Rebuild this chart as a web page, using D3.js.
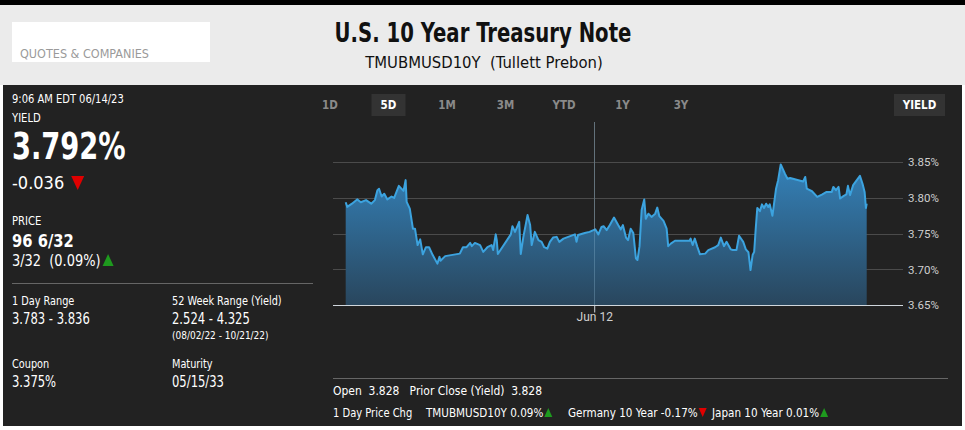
<!DOCTYPE html>
<html>
<head>
<meta charset="utf-8">
<script src="https://cdnjs.cloudflare.com/ajax/libs/d3/7.8.5/d3.min.js"></script>
<style>
	body { margin: 0; background: #fff; }
	svg text { font-family: "Liberation Sans Narrow", "DejaVu Sans Condensed", Roboto, sans-serif; }
	.axis text { font-family: Roboto, sans-serif; }
</style>
</head>
<body>
<div id="quote"></div>
<script>
	//position in the 5 day window (0 = first print, 100 = last print)
	var times = [0, 0.3, 1.2, 2.2, 2.9, 3.9, 4.9, 5.6, 6.1, 6.4, 6.9, 7.4, 8.0, 8.8, 9.3, 10.2, 11.1, 11.5, 11.7,
		12.3, 12.9, 13.3, 13.8, 14.3, 14.8, 15.4, 16.0, 16.7, 17.6, 18.0, 18.2, 19.1, 21.9, 22.5, 23.2, 23.9, 24.2,
		24.8, 25.8, 26.4, 27.2, 28.0, 28.3, 28.8, 29.0, 29.2, 31.7, 32.0, 32.5, 33.3, 33.6, 34.1, 34.9, 35.4, 35.7,
		36.3, 37.0, 37.6, 38.1, 38.7, 39.2, 39.8, 40.5, 41.0, 41.8, 44.0, 44.3, 44.6, 45.9, 46.8, 47.9, 48.5, 49.1,
		49.5, 50.1, 50.7, 51.5, 52.3, 52.8, 53.2, 53.8, 54.2, 54.7, 55.2, 55.7, 56.0, 56.4, 56.8, 57.3, 57.6, 58.1,
		58.7, 59.4, 59.8, 60.2, 61.0, 61.6, 61.9, 62.4, 63.2, 66.0, 66.2, 66.6, 67.0, 67.5, 68.0, 69.0, 69.6, 70.9,
		71.5, 72.0, 72.6, 73.1, 73.9, 74.3, 75.0, 75.5, 76.3, 76.8, 77.3, 77.7, 78.1, 78.4, 78.7, 79.0, 79.5, 79.9,
		80.3, 80.7, 81.1, 81.4, 81.9, 82.2, 82.6, 83.0, 83.5, 84.0, 84.3, 84.8, 85.3, 87.8, 88.2, 88.5, 89.5, 90.5,
		91.4, 92.3, 93.3, 93.6, 94.1, 94.6, 94.9, 95.6, 96.1, 96.4, 96.8, 97.4, 98.1, 98.7, 99.2, 99.6, 99.85, 100];
	var yields = [3.794, 3.7875, 3.792, 3.798, 3.794, 3.797, 3.792, 3.797, 3.811, 3.813, 3.802, 3.806, 3.798, 3.802, 3.800, 3.817, 3.810, 3.825, 3.7945,
		3.785, 3.757, 3.757, 3.734, 3.742, 3.721, 3.731, 3.731, 3.720, 3.708, 3.7175, 3.712, 3.7185, 3.722, 3.731, 3.731, 3.737, 3.7325,
		3.737, 3.734, 3.7245, 3.731, 3.734, 3.727, 3.749, 3.741, 3.7215, 3.749, 3.7605, 3.7525, 3.7665, 3.7215, 3.7455, 3.776, 3.762, 3.734,
		3.7525, 3.741, 3.7385, 3.731, 3.729, 3.7385, 3.7445, 3.7455, 3.7385, 3.743, 3.749, 3.7385, 3.748, 3.751, 3.7525, 3.756, 3.749, 3.7595,
		3.7605, 3.755, 3.762, 3.7725, 3.762, 3.756, 3.762, 3.7445, 3.741, 3.757, 3.751, 3.7155, 3.713, 3.7325, 3.783, 3.798, 3.771, 3.778,
		3.7735, 3.778, 3.7865, 3.7745, 3.768, 3.757, 3.7325, 3.736, 3.740, 3.740, 3.743, 3.734, 3.743, 3.7315, 3.721, 3.722, 3.727, 3.731,
		3.734, 3.7445, 3.7325, 3.7385, 3.728, 3.727, 3.727, 3.747, 3.7385, 3.728, 3.724, 3.699, 3.720, 3.7245, 3.757, 3.786, 3.7815, 3.791,
		3.786, 3.792, 3.7875, 3.791, 3.775, 3.791, 3.813, 3.825, 3.847, 3.839, 3.834, 3.827, 3.828, 3.823, 3.8295, 3.813, 3.8094, 3.8015,
		3.8048, 3.8085, 3.8085, 3.8155, 3.811, 3.8155, 3.7992, 3.803, 3.805, 3.817, 3.804, 3.818, 3.825, 3.831, 3.820, 3.8085, 3.786, 3.792];

	var yTicks = [3.65, 3.70, 3.75, 3.80, 3.85];
	var xTicks = [47.7];
	var xTickLabels = ["Jun 12"];
	var tabs = ["1D", "5D", "1M", "3M", "YTD", "1Y", "3Y"];
	var activeTab = "5D";

	var statLabels = ["1 Day Range", "52 Week Range (Yield)", "Coupon", "Maturity"];
	var statValues = ["3.783 - 3.836", "2.524 - 4.325", "3.375%", "05/15/33"];
	var otherChgNames = ["TMUBMUSD10Y", "Germany 10 Year", "Japan 10 Year"];
	var otherChgValues = [0.09, -0.17, 0.01];

	var width = 965;
	var height = 430;

	var svg = d3.select("#quote").append("svg")
		.attr("width", width)
		.attr("height", height);

	//no narrow font here, so squeeze the condensed one a bit more
	function narrow(sel, k) {
		sel.each(function() {
			var w = this.getComputedTextLength();
			d3.select(this).attr("textLength", w * k).attr("lengthAdjust", "spacingAndGlyphs");
		});
		return sel;
	}

	//HEADER BEGIN
	svg.append("rect").attr("x", 0).attr("y", 0).attr("width", width).attr("height", 5).attr("fill", "#000");
	svg.append("rect").attr("x", 0).attr("y", 5).attr("width", width).attr("height", 80).attr("fill", "#ebebeb");
	svg.append("rect").attr("x", 12).attr("y", 22).attr("width", 198).attr("height", 40).attr("fill", "#fff");
	svg.append("text").attr("x", 20).attr("y", 58)
		.style("font-size", "12.5px").attr("fill", "#9a9a9a")
		.text("QUOTES & COMPANIES");
	narrow(svg.append("text").attr("x", 483).attr("y", 42)
		.attr("text-anchor", "middle")
		.style("font-size", "27px").style("font-weight", "bold").attr("fill", "#111")
		.text("U.S. 10 Year Treasury Note"), 0.81);
	svg.append("text").attr("x", 484).attr("y", 68)
		.attr("text-anchor", "middle")
		.style("font-size", "16.5px").attr("fill", "#111")
		.text("TMUBMUSD10Y\u00a0 (Tullett Prebon)");
	//HEADER END

	svg.append("rect").attr("x", 3).attr("y", 85).attr("width", 959).attr("height", 341).attr("fill", "#222");

	//LEFT PANEL BEGIN
	var left = svg.append("g").attr("fill", "#fff");
	narrow(left.append("text").attr("x", 12).attr("y", 103).style("font-size", "12px").text("9:06 AM EDT 06/14/23"), 0.92);
	narrow(left.append("text").attr("x", 12).attr("y", 122).style("font-size", "12px").text("YIELD"), 0.93);
	narrow(left.append("text").attr("x", 12).attr("y", 159).style("font-size", "37px").style("font-weight", "bold").text("3.792%"), 0.82);
	var chg = left.append("text").attr("x", 12).attr("y", 189).style("font-size", "18px").text("-0.036");
	var chgEnd = 12 + chg.node().getComputedTextLength() + 7;
	left.append("path").attr("d", "M" + chgEnd + ",176L" + (chgEnd + 13) + ",176L" + (chgEnd + 6.5) + ",190Z").attr("fill", "#e00000");
	narrow(left.append("text").attr("x", 12).attr("y", 225).style("font-size", "12px").text("PRICE"), 0.93);
	narrow(left.append("text").attr("x", 12).attr("y", 247).style("font-size", "18px").style("font-weight", "bold").text("96 6/32"), 0.91);
	var pchg = narrow(left.append("text").attr("x", 12).attr("y", 266).style("font-size", "15px").text("3/32\u00a0 (0.09%)"), 0.96);
	var pEnd = 12 + +pchg.attr("textLength") + 2;
	left.append("path").attr("d", "M" + pEnd + ",266L" + (pEnd + 11) + ",266L" + (pEnd + 5.5) + ",254Z").attr("fill", "#1e9a1e");
	left.append("line").attr("x1", 12).attr("x2", 313).attr("y1", 283.5).attr("y2", 283.5)
		.attr("stroke", "#666").attr("stroke-width", 1);

	var statX = [12, 172, 12, 172];
	var statY = [305, 305, 368, 368];
	for (var i = 0; i < statLabels.length; i++) {
		narrow(left.append("text").attr("x", statX[i]).attr("y", statY[i]).style("font-size", "12px").text(statLabels[i]), 0.9);
		narrow(left.append("text").attr("x", statX[i]).attr("y", statY[i] + 19).style("font-size", "15.5px").text(statValues[i]), 0.83);
	}
	narrow(left.append("text").attr("x", 172).attr("y", 339).style("font-size", "10.5px").text("(08/02/22 - 10/21/22)"), 0.95);
	//LEFT PANEL END

	//TABS
	var tabScale = d3.scalePoint().domain(tabs).range([330, 681]);
	svg.append("rect").attr("x", tabScale(activeTab) - 17).attr("y", 94).attr("width", 34).attr("height", 22).attr("fill", "#333");
	svg.selectAll("text.tab")
		.data(tabs)
		.enter()
		.append("text")
		.attr("class", "tab")
		.attr("x", function(d) { return tabScale(d); })
		.attr("y", 109)
		.attr("text-anchor", "middle")
		.style("font-size", "11.5px").style("font-weight", "bold")
		.attr("fill", function(d) { return d === activeTab ? "#fff" : "#8a8a8a"; })
		.text(function(d) { return d; });
	svg.append("rect").attr("x", 894).attr("y", 94).attr("width", 51).attr("height", 22).attr("fill", "#333");
	svg.append("text").attr("x", 919.5).attr("y", 109).attr("text-anchor", "middle")
		.style("font-size", "11.5px").style("font-weight", "bold").attr("fill", "#fff").text("YIELD");

	//CHART BEGIN
	var x = d3.scaleLinear().domain([0, 100]).range([345.7, 866.7]);
	var y = d3.scaleLinear().domain([3.65, 3.85]).range([305, 162.3]);
	var gridLeft = 333;
	var gridRight = 903;

	var points = times.map(function(t, i) { return [t, yields[i]]; });

	var defs = svg.append("defs");
	var grad = defs.append("linearGradient")
		.attr("id", "areaFill")
		.attr("gradientUnits", "userSpaceOnUse")
		.attr("x1", 0).attr("x2", 0).attr("y1", y(3.85)).attr("y2", y(3.65));
	grad.append("stop").attr("offset", "0%").attr("stop-color", "#3482ba");
	grad.append("stop").attr("offset", "100%").attr("stop-color", "#29465d");

	//horizontal grid
	svg.append("g")
		.selectAll("line")
		.data(yTicks)
		.enter()
		.append("line")
		.attr("x1", gridLeft).attr("x2", gridRight)
		.attr("y1", function(d) { return Math.round(y(d)) + 0.5; })
		.attr("y2", function(d) { return Math.round(y(d)) + 0.5; })
		.attr("stroke", "#4b4b4b");

	//vertical day line
	svg.append("g")
		.selectAll("line")
		.data(xTicks)
		.enter()
		.append("line")
		.attr("x1", function(d) { return Math.round(x(d)) + 0.5; })
		.attr("x2", function(d) { return Math.round(x(d)) + 0.5; })
		.attr("y1", 122).attr("y2", y(3.65))
		.attr("stroke", "#4f4f4f");

	var area = d3.area()
		.x(function(d) { return x(d[0]); })
		.y0(y(3.65))
		.y1(function(d) { return y(d[1]); });
	var line = d3.line()
		.x(function(d) { return x(d[0]); })
		.y(function(d) { return y(d[1]); });

	svg.append("path").datum(points).attr("d", area).attr("fill", "url(#areaFill)");
	svg.append("path").datum(points).attr("d", line)
		.attr("fill", "none").attr("stroke", "#3ca3df").attr("stroke-width", 2).attr("stroke-linejoin", "round");

	//day line shows faintly over the area
	svg.selectAll("line.dayover")
		.data(xTicks)
		.enter()
		.append("line")
		.attr("class", "dayover")
		.attr("x1", function(d) { return Math.round(x(d)) + 0.5; })
		.attr("x2", function(d) { return Math.round(x(d)) + 0.5; })
		.attr("y1", 122).attr("y2", y(3.65))
		.attr("stroke", "#8ab4cf").attr("stroke-opacity", 0.35);

	//baseline + x tick
	svg.append("line").attr("x1", gridLeft).attr("x2", gridRight)
		.attr("y1", Math.round(y(3.65)) + 0.5).attr("y2", Math.round(y(3.65)) + 0.5)
		.attr("stroke", "#cfd6dc");
	var xAxis = d3.axisBottom(x)
		.tickValues(xTicks)
		.tickSize(7)
		.tickFormat(function(d, i) { return xTickLabels[i]; });
	var gx = svg.append("g").attr("class", "axis")
		.attr("transform", "translate(0," + (Math.round(y(3.65)) + 0.5) + ")")
		.call(xAxis);
	gx.select(".domain").remove();
	gx.selectAll("line").attr("stroke", "#cfd6dc");
	gx.selectAll("text").attr("fill", "#d0d0d0").style("font-size", "12px").attr("dy", "0.45em");

	var yAxis = d3.axisRight(y)
		.tickValues(yTicks)
		.tickSize(0)
		.tickPadding(0)
		.tickFormat(function(d) { return d3.format(".2f")(d) + "%"; });
	var gy = svg.append("g").attr("class", "axis")
		.attr("transform", "translate(" + (gridRight + 5) + ",0)")
		.call(yAxis);
	gy.select(".domain").remove();
	gy.selectAll("text").attr("fill", "#cfcfcf").style("font-size", "11.5px");
	//CHART END

	//BOTTOM ROW
	svg.append("line").attr("x1", 333).attr("x2", 948).attr("y1", 378.5).attr("y2", 378.5).attr("stroke", "#666");
	var bottom = svg.append("g").attr("fill", "#fff").style("font-size", "13px");
	narrow(bottom.append("text").attr("x", 333).attr("y", 395).text("Open\u00a0 3.828\u00a0\u00a0 Prior Close (Yield)\u00a0 3.828"), 0.92);
	narrow(bottom.append("text").attr("x", 333).attr("y", 417).text("1 Day Price Chg"), 0.85);

	var chgX = [426, 568, 712];
	for (var j = 0; j < otherChgNames.length; j++) {
		var t = narrow(bottom.append("text").attr("x", chgX[j]).attr("y", 417)
			.text(otherChgNames[j] + " " + otherChgValues[j].toFixed(2) + "%"), 0.89);
		var end = chgX[j] + +t.attr("textLength") + 1;
		if (otherChgValues[j] >= 0) {
			bottom.append("path").attr("d", "M" + end + ",417L" + (end + 8) + ",417L" + (end + 4) + ",408Z").attr("fill", "#1e9a1e");
		} else {
			bottom.append("path").attr("d", "M" + end + ",408L" + (end + 8) + ",408L" + (end + 4) + ",417Z").attr("fill", "#e00000");
		}
	}
</script>
</body>
</html>
